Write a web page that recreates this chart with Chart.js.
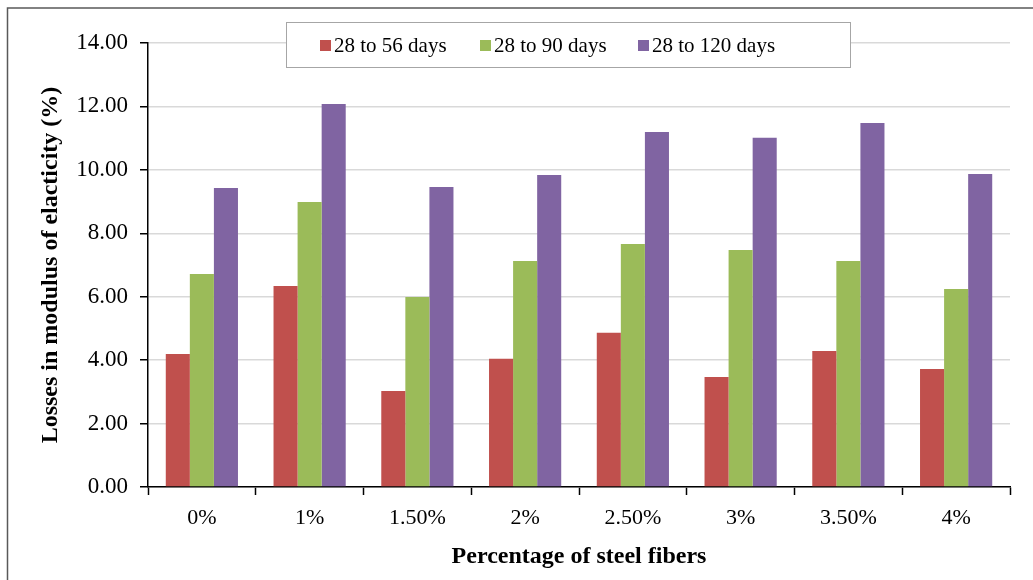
<!DOCTYPE html>
<html>
<head>
<meta charset="utf-8">
<script src="https://cdn.jsdelivr.net/npm/chart.js@4/dist/chart.umd.min.js"></script>
<style>
  html, body { margin: 0; padding: 0; background: #fff; }
  #wrap { width: 1033px; height: 580px; position: relative; }
</style>
</head>
<body>
<div id="wrap"><canvas id="chart"></canvas></div>
<script>
// categories and values
const fiberLabels = ['0%', '1%', '1.50%', '2%', '2.50%', '3%', '3.50%', '4%'];
const loss56 = [4.19, 6.34, 3.03, 4.04, 4.86, 3.47, 4.29, 3.72];
const loss90 = [6.72, 8.99, 5.99, 7.13, 7.66, 7.47, 7.13, 6.24];
const loss120 = [9.43, 12.08, 9.46, 9.84, 11.19, 11.01, 11.48, 9.87];
const seriesNames = ['28 to 56 days', '28 to 90 days', '28 to 120 days'];
const seriesColors = ['#c0504d', '#9bbb59', '#8064a2'];

const serif = "'Liberation Serif', 'Times New Roman', serif";

// ramecek (jen levy a horni okraj) + legenda uvnitr plochy
const framePlugin = {
    id: 'frame',
    beforeDraw(chart) {
        const ctx = chart.ctx;
        ctx.save();
        ctx.fillStyle = '#fff';
        ctx.fillRect(0, 0, chart.width, chart.height);
        ctx.strokeStyle = '#595959';
        ctx.lineWidth = 1.5;
        ctx.beginPath();
        ctx.moveTo(7.5, chart.height);
        ctx.lineTo(7.5, 8);
        ctx.lineTo(chart.width, 8);
        ctx.stroke();
        ctx.restore();
    },
    afterDraw(chart) {
        const ctx = chart.ctx;
        ctx.save();
        const x0 = 286.5, y0 = 22.5, w = 564, h = 45;
        ctx.fillStyle = '#fff';
        ctx.fillRect(x0, y0, w, h);
        ctx.strokeStyle = '#a6a6a6';
        ctx.lineWidth = 1;
        ctx.strokeRect(x0, y0, w, h);
        ctx.font = '21px ' + serif;
        ctx.textBaseline = 'middle';
        const starts = [320, 480, 638];
        chart.data.datasets.forEach((ds, i) => {
            ctx.fillStyle = ds.backgroundColor;
            ctx.fillRect(starts[i], 40, 11, 11);
            ctx.fillStyle = '#000';
            ctx.fillText(ds.label, starts[i] + 14, 46);
        });
        ctx.restore();
    }
};

const ctx = document.getElementById('chart').getContext('2d');
new Chart(ctx, {
    type: 'bar',
    data: {
        labels: fiberLabels,
        datasets: [
            { label: seriesNames[0], data: loss56, backgroundColor: seriesColors[0] },
            { label: seriesNames[1], data: loss90, backgroundColor: seriesColors[1] },
            { label: seriesNames[2], data: loss120, backgroundColor: seriesColors[2] }
        ]
    },
    options: {
        responsive: true,
        maintainAspectRatio: false,
        animation: false,
        devicePixelRatio: 1,
        layout: { padding: { top: 43, right: 23, left: 0, bottom: 0 } },
        datasets: { bar: { categoryPercentage: 0.67, barPercentage: 1.0 } },
        plugins: { legend: { display: false }, tooltip: { enabled: false } },
        scales: {
            x: {
                afterFit(scale) { scale.height = 93; },
                grid: { drawOnChartArea: false, drawTicks: true, tickLength: 8, color: '#000', tickWidth: 1.5, offset: true },
                border: { color: '#000', width: 1.5 },
                ticks: { color: '#000', font: { family: serif, size: 22 }, padding: 10 },
                title: { display: true, text: 'Percentage of steel fibers', color: '#000',
                         font: { family: serif, size: 24, weight: 'bold' }, padding: { top: 0, bottom: 9 } }
            },
            y: {
                min: 0, max: 14,
                afterFit(scale) { scale.width = 148; },
                grid: { color: '#d9d9d9', lineWidth: 1.5, tickColor: '#000', tickLength: 8, tickWidth: 1.5 },
                border: { color: '#000', width: 1.5 },
                ticks: { stepSize: 2, color: '#000', font: { family: serif, size: 23 }, padding: 12,
                         callback: v => v.toFixed(2) },
                title: { display: true, text: 'Losses in modulus of elacticity (%)', color: '#000',
                         font: { family: serif, size: 24, weight: 'bold' }, padding: { top: 36, bottom: 0 } }
            }
        }
    },
    plugins: [framePlugin]
});
</script>
</body>
</html>
